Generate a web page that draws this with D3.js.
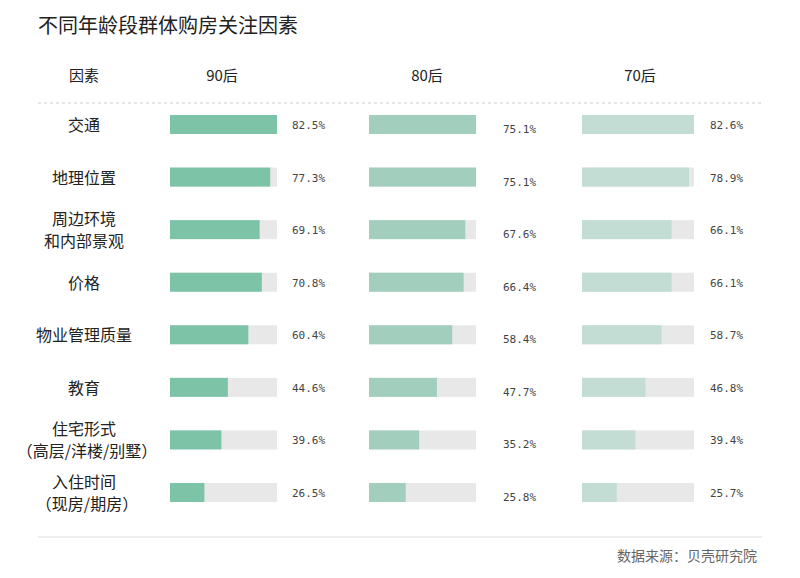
<!DOCTYPE html>
<html><head><meta charset="utf-8">
<script src="https://cdn.jsdelivr.net/npm/d3@7"></script>
<style>body{margin:0;background:#fff;font-family:"Noto Sans CJK SC","Noto Sans",sans-serif;}</style>
</head><body><div id="chart"></div>
<script>
var factors = [["交通"],["地理位置"],["周边环境","和内部景观"],["价格"],["物业管理质量"],["教育"],["住宅形式","（高层/洋楼/别墅）"],["入住时间","（现房/期房）"]];
var groups = ["90后","80后","70后"];
var v90 = [82.5,77.3,69.1,70.8,60.4,44.6,39.6,26.5];
var v80 = [75.1,75.1,67.6,66.4,58.4,47.7,35.2,25.8];
var v70 = [82.6,78.9,66.1,66.1,58.7,46.8,39.4,25.7];
var series = [v90, v80, v70];
var colors = ["#7dc3a8","#a2cfbd","#c3ddd4"];

var svg = d3.select("#chart").append("svg").attr("width",800).attr("height",578);
svg.append("text").attr("x",38).attr("y",33).attr("font-size",20).attr("fill","#222").text("不同年龄段群体购房关注因素");

var y = d3.scalePoint().domain(d3.range(factors.length)).range([125,493]);
var colX = [170,369,582], colW = [107,107,112], labX = [292,503,710], headX = [222,427,640];

svg.append("text").attr("x",84).attr("y",81).attr("text-anchor","middle").attr("font-size",15).attr("fill","#222").text("因素");
groups.forEach(function(g,i){
  svg.append("text").attr("x",headX[i]).attr("y",81).attr("text-anchor","middle").attr("font-size",15).attr("fill","#222").text(g);
});
svg.append("line").attr("x1",38).attr("x2",762).attr("y1",103).attr("y2",103).attr("stroke","#ccc").attr("stroke-dasharray","3,3");
svg.append("line").attr("x1",38).attr("x2",762).attr("y1",537).attr("y2",537).attr("stroke","#ddd");
svg.append("text").attr("x",757).attr("y",561).attr("text-anchor","end").attr("font-size",14).attr("fill","#666").text("数据来源：贝壳研究院");

factors.forEach(function(f,r){
  var t = svg.append("text").attr("text-anchor","middle").attr("font-size",16).attr("fill","#222");
  f.forEach(function(line,k){
    t.append("tspan").attr("x",f.length>1 && line.charAt(0)=="（" ? 87 : 84)
     .attr("y", y(r) + 6 + (k - (f.length-1)/2)*22).text(line);
  });
});

series.forEach(function(vals,c){
  var x = d3.scaleLinear().domain([0,d3.max(vals)]).range([0,colW[c]]);
  var gr = svg.append("g");
  gr.selectAll(".bg").data(vals).enter().append("rect")
    .attr("x",colX[c]).attr("y",function(d,i){return y(i)-10;})
    .attr("width",colW[c]).attr("height",19).attr("fill","#e8e8e8");
  gr.selectAll(".fg").data(vals).enter().append("rect")
    .attr("x",colX[c]).attr("y",function(d,i){return y(i)-10;})
    .attr("width",function(d){return x(d);}).attr("height",19).attr("fill",colors[c]);
  gr.selectAll(".lb").data(vals).enter().append("text")
    .attr("x",labX[c]).attr("y",function(d,i){return y(i)+(c==1?8:4);})
    .attr("font-size",11).attr("fill","#444").attr("font-family","DejaVu Sans Mono,monospace")
    .text(function(d){return d.toFixed(1)+"%";});
});
</script></body></html>
